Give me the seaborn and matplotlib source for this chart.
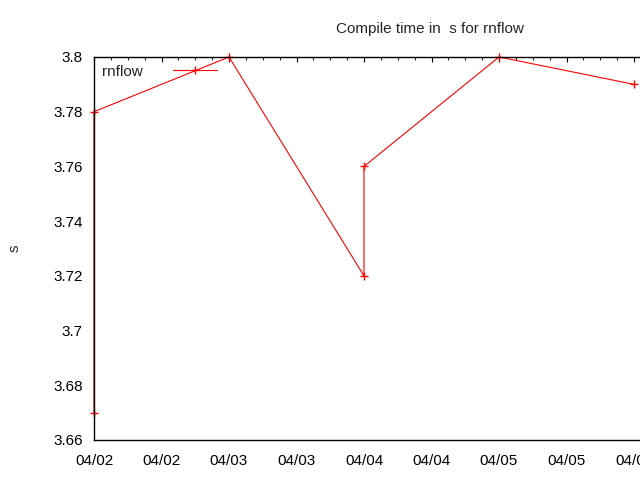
import pandas as pd
import matplotlib
matplotlib.use("Agg")
import matplotlib.pyplot as plt
import matplotlib.dates as mdates
import seaborn as sns

dates = ["2014-04-02", "2014-04-02", "2014-04-03", "2014-04-04",
         "2014-04-04", "2014-04-05", "2014-04-06"]
times = [3.67, 3.78, 3.80, 3.72, 3.76, 3.80, 3.79]

df = pd.DataFrame({"date": pd.to_datetime(dates), "s": times})

sns.set_style("white")
plt.rcParams['font.family'] = ['Liberation Sans', 'DejaVu Sans']
plt.rcParams['font.size'] = 11

fig = plt.figure(figsize=(6.4, 4.8), dpi=100)
# gnuplot plot area runs past the right edge of the canvas
ax = fig.add_axes([94 / 640, 40 / 480, 672 / 640, 383 / 480])

sns.lineplot(data=df, x="date", y="s", ax=ax, estimator=None, sort=False,
             color="red", linewidth=0.8, marker="+", markersize=6,
             markeredgewidth=1, markeredgecolor="red", label="rnflow",
             clip_on=False, zorder=2)

start = pd.Timestamp("2014-04-02")
ax.set_xlim(start, start + pd.Timedelta(days=672 / 135))
ax.set_ylim(3.66, 3.80)
ax.set_yticks([3.66, 3.68, 3.70, 3.72, 3.74, 3.76, 3.78, 3.80])
ax.yaxis.set_major_formatter(matplotlib.ticker.FuncFormatter(lambda v, p: "%g" % round(v, 4)))

ax.xaxis.set_major_locator(mdates.HourLocator(byhour=[0, 12]))
ax.xaxis.set_minor_locator(mdates.HourLocator(byhour=[3, 6, 9, 15, 18, 21]))
ax.xaxis.set_major_formatter(mdates.DateFormatter("%m/%d"))

ax.tick_params(axis="both", which="major", direction="in", length=3.5, width=0.8,
               top=True, right=True, colors="black", labelsize=11)
ax.tick_params(axis="x", which="major", pad=10)
ax.tick_params(axis="y", which="major", pad=8)
ax.tick_params(axis="x", which="minor", direction="in", length=1.8, width=0.8, top=True)

for sp in ax.spines.values():
    sp.set_color("black")
    sp.set_linewidth(1.0)
    sp.set_zorder(5)

ax.set_xlabel("")
ax.set_ylabel("s", fontsize=11, labelpad=23)
ax.set_title("Compile time in  s for rnflow", fontsize=11, pad=17)

ax.legend(loc="upper left", frameon=False, markerfirst=False, handlelength=2.9,
          fontsize=11, borderaxespad=0.35, borderpad=0.15, handletextpad=2.0)

fig.savefig("out.png", dpi=100)
